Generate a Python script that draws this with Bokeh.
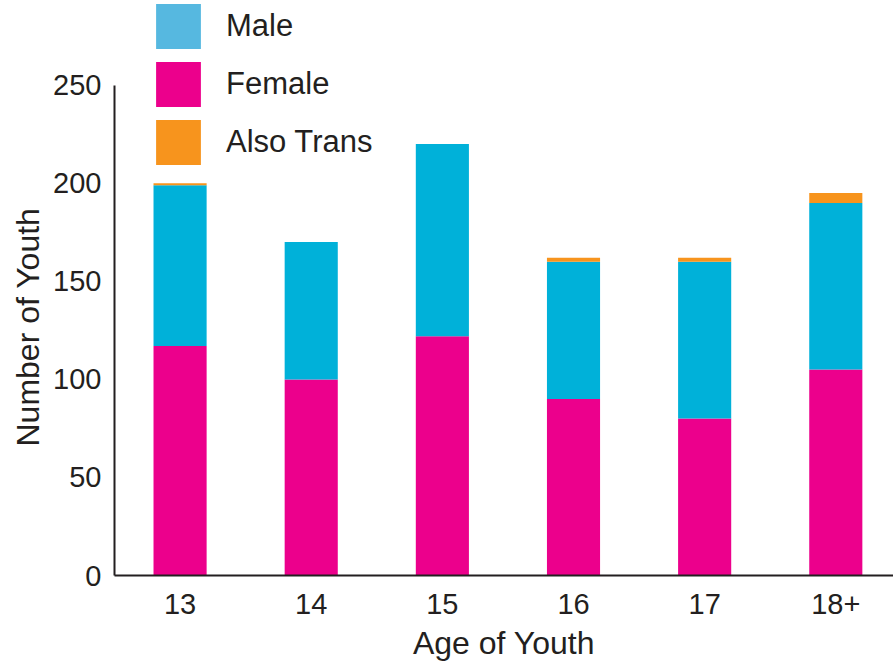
from bokeh.plotting import figure
from bokeh.models import Range1d, ColumnDataSource, Legend, LegendItem, FixedTicker, Title
from bokeh.embed import file_html
from bokeh.resources import INLINE

ages = ["13", "14", "15", "16", "17", "18+"]
female = [117, 100, 122, 90, 80, 105]
male = [82, 70, 98, 70, 80, 85]
trans = [1, 0, 0, 2, 2, 5]
y_ticks = [0, 50, 100, 150, 200, 250]

series = ["female", "male", "trans"]
bar_colors = ["#ec008c", "#00b1d9", "#f7941d"]
legend_labels = ["Male", "Female", "Also Trans"]
legend_colors = ["#56b8e0", "#ec008c", "#f7941d"]

FONT = "Liberation Sans"
TXT = "#231f20"

x = [i + 0.5 for i in range(len(ages))]
src = ColumnDataSource(dict(x=x, female=female, male=male, trans=trans))

p = figure(width=893, height=663, output_backend="svg", toolbar_location=None,
           x_range=Range1d(0, 5.94), y_range=Range1d(0, 293.2),
           min_border_left=114, min_border_right=0, min_border_top=0,
           min_border_bottom=85)

p.vbar_stack(series, x="x", width=0.405, color=bar_colors, line_color=None, source=src)

items = []
for lab, col in zip(legend_labels, legend_colors):
    r = p.vbar(x=[x[0]], top=[0], bottom=[0], width=0.4, fill_color=col, line_color=None)
    items.append(LegendItem(label=lab, renderers=[r]))

legend = Legend(items=items, location=(36, 405), padding=0, margin=0,
                spacing=2, glyph_width=56, glyph_height=56, label_standoff=20,
                border_line_color=None, background_fill_alpha=0,
                label_text_font=FONT, label_text_font_size="31px",
                label_text_color=TXT)
p.add_layout(legend)

p.xaxis.ticker = FixedTicker(ticks=x)
p.xaxis.major_label_overrides = {xi: a for xi, a in zip(x, ages)}
p.yaxis.ticker = FixedTicker(ticks=y_ticks)
p.yaxis.bounds = (0, 250)

p.xaxis.axis_label = "Age of Youth"

for ax in p.axis:
    ax.major_tick_line_color = None
    ax.minor_tick_line_color = None
    ax.axis_line_color = TXT
    ax.axis_line_width = 2
    ax.major_label_text_font = FONT
    ax.major_label_text_font_size = "29px"
    ax.major_label_text_color = TXT
    ax.axis_label_text_font = FONT
    ax.axis_label_text_font_size = "32px"
    ax.axis_label_text_font_style = "normal"
    ax.axis_label_text_color = TXT
    ax.axis_label_standoff = 8

p.xaxis.major_label_standoff = 12
p.yaxis.major_label_standoff = 7

ytitle = Title(text="Number of Youth", align="left", offset=129,
               text_font=FONT, text_font_size="32px", text_font_style="normal",
               text_color=TXT, standoff=10)
p.add_layout(ytitle, "left")

p.xgrid.visible = False
p.ygrid.visible = False
p.outline_line_color = None

open("out.html", "w").write(file_html(p, INLINE))
